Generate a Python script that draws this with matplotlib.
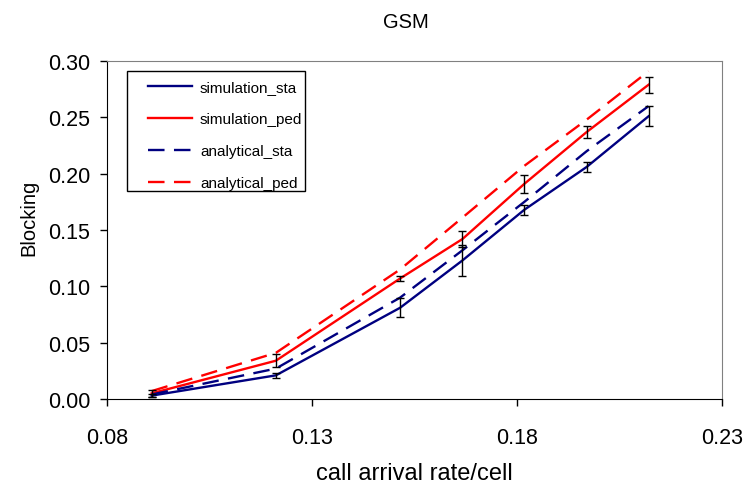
import matplotlib as mpl
mpl.use('Agg')  # headless
import matplotlib.pyplot as plt
from matplotlib.patches import Rectangle

# call arrival rate per cell
rate = [0.0909, 0.1212, 0.1515, 0.1667, 0.1818, 0.1970, 0.2121]

# blocking probability, simulated (mean) and analytical
sim_sta = [0.003, 0.021, 0.081, 0.123, 0.168, 0.206, 0.251]
sim_ped = [0.005, 0.034, 0.107, 0.142, 0.191, 0.237, 0.279]
ana_sta = [0.004, 0.027, 0.090, 0.132, 0.175, 0.220, 0.260]
ana_ped = [0.007, 0.041, 0.115, 0.161, 0.207, 0.248, 0.291]

# confidence half-widths of the simulations
sim_sta_err = [0.001, 0.0025, 0.0085, 0.0135, 0.0045, 0.0045, 0.009]
sim_ped_err = [0.003, 0.006, 0.0025, 0.007, 0.008, 0.0055, 0.007]

xticks = [0.08, 0.13, 0.18, 0.23]
yticks = [0.00, 0.05, 0.10, 0.15, 0.20, 0.25, 0.30]

plt.rcParams['font.family'] = ['Liberation Sans', 'DejaVu Sans']

navy = '#000080'
red = '#ff0000'
lw = 1.7

fig = plt.figure(figsize=(7.45, 4.89), dpi=100)
ax = fig.add_axes([0.1436, 0.182, 0.8254, 0.691])

ax.plot(rate, sim_sta, color=navy, lw=lw, label='simulation_sta')
ax.plot(rate, sim_ped, color=red, lw=lw, label='simulation_ped')
ax.plot(rate, ana_sta, color=navy, lw=lw, dashes=(7, 4),
        label='analytical_sta')
ax.plot(rate, ana_ped, color=red, lw=lw, dashes=(7, 4),
        label='analytical_ped')

ax.errorbar(rate, sim_sta, yerr=sim_sta_err, fmt='none', ecolor='black',
            elinewidth=1, capsize=3, capthick=1)
ax.errorbar(rate, sim_ped, yerr=sim_ped_err, fmt='none', ecolor='black',
            elinewidth=1, capsize=3, capthick=1)

ax.set_xlim(0.08, 0.23)
ax.set_ylim(0.0, 0.30)
ax.set_xticks(xticks)
ax.set_xticklabels(['%.2f' % v for v in xticks])
ax.set_yticks(yticks)
ax.set_yticklabels(['%.2f' % v for v in yticks])
ax.tick_params(direction='out', length=5, width=1, labelsize=15.5, pad=7)
ax.tick_params(axis='x', pad=15)

for side in ['top', 'right']:
    ax.spines[side].set_color('#808080')
for side in ['left', 'bottom']:
    ax.spines[side].set_color('black')

# chart title is centred on the whole figure
fig.text(0.545, 0.955, 'GSM', fontsize=14.5, ha='center', va='center')
ax.set_xlabel('call arrival rate/cell', fontsize=17, labelpad=10)
ax.set_ylabel('Blocking', fontsize=14.5)
ax.yaxis.set_label_coords(-0.112, 0.538)

# legend entries without frame, box drawn separately
leg = ax.legend(loc='upper left', bbox_to_anchor=(0.0667, 0.943),
                fontsize=11, frameon=False, handlelength=2.9,
                handletextpad=0.5, labelspacing=1.17,
                borderpad=0, borderaxespad=0)
ax.add_patch(Rectangle((0.0325, 0.615), 0.2895, 0.355,
                       transform=ax.transAxes, fill=False,
                       edgecolor='black', lw=1, zorder=5))

fig.savefig('out.png', dpi=100)
